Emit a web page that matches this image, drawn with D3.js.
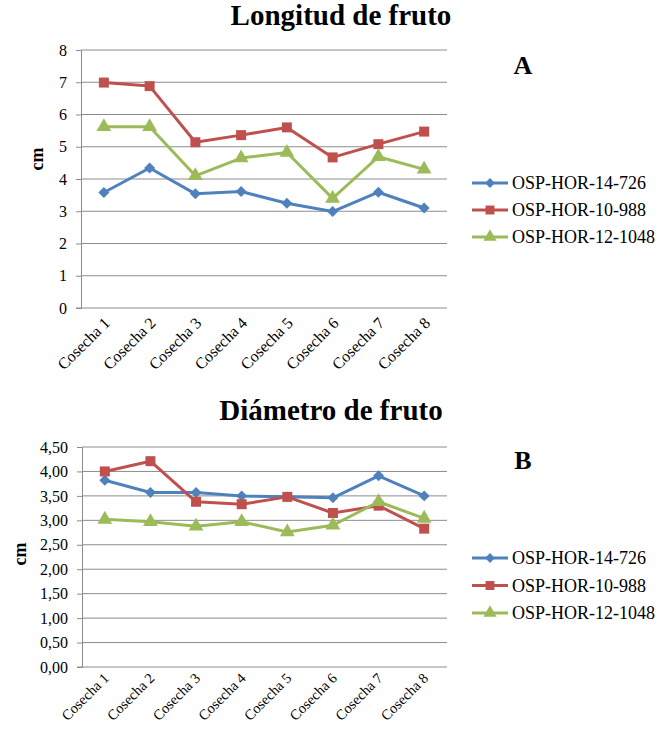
<!DOCTYPE html>
<html><head><meta charset="utf-8">
<script src="https://cdn.jsdelivr.net/npm/d3@7"></script>
<style>body{margin:0;background:#fff}svg{display:block}svg text{font-family:"Liberation Serif","Times New Roman","DejaVu Serif",serif !important}</style>
</head><body><svg id="c" width="662" height="730"></svg>
<script>
const categories = ["Cosecha 1","Cosecha 2","Cosecha 3","Cosecha 4","Cosecha 5","Cosecha 6","Cosecha 7","Cosecha 8"];
const seriesNames = ["OSP-HOR-14-726","OSP-HOR-10-988","OSP-HOR-12-1048"];
const seriesColors = ["#4F81BD","#C0504D","#9BBB59"];
const seriesMarkers = ["diamond","square","triangle"];
// Chart A: Longitud de fruto (cm)
const longA_14726 = [3.58,4.34,3.54,3.61,3.25,2.99,3.59,3.10];
const longA_10988 = [6.99,6.88,5.14,5.36,5.60,4.67,5.08,5.47];
const longA_121048 = [5.62,5.62,4.10,4.65,4.82,3.40,4.69,4.30];
const ticksA = [0,1,2,3,4,5,6,7,8];
// Chart B: Diámetro de fruto (cm)
const diamB_14726 = [3.82,3.57,3.57,3.50,3.48,3.46,3.91,3.50];
const diamB_10988 = [4.00,4.21,3.38,3.33,3.48,3.15,3.30,2.83];
const diamB_121048 = [3.02,2.97,2.88,2.97,2.76,2.90,3.38,3.04];
const ticksB = [0,0.5,1,1.5,2,2.5,3,3.5,4,4.5];

const SERIF = "'Liberation Serif','Times New Roman','DejaVu Serif',serif";
const svg = d3.select("#c");

function drawChart(cfg){
  const g = svg.append("g").style("font-family",SERIF);
  const x = d3.scaleBand().domain(categories).range([cfg.x0,cfg.x1]);
  const y = d3.scaleLinear().domain([cfg.ticks[0],cfg.ticks[cfg.ticks.length-1]]).range([cfg.y1,cfg.y0]);
  g.append("text").attr("x",cfg.titleX).attr("y",cfg.titleY).attr("text-anchor","middle")
    .attr("font-size",cfg.titleSize).attr("font-weight","bold").text(cfg.title);
  g.append("text").attr("x",cfg.letterX).attr("y",cfg.letterY).attr("text-anchor","middle")
    .attr("font-size",26).attr("font-weight","bold").text(cfg.letter);
  g.append("g").selectAll("line").data(cfg.ticks.slice(1)).join("line")
    .attr("x1",cfg.x0).attr("x2",cfg.x1).attr("y1",d=>y(d)).attr("y2",d=>y(d))
    .attr("stroke","#8c8c8c").attr("stroke-width",1);
  const ya = g.append("g").attr("transform",`translate(${cfg.x0},0)`)
    .call(d3.axisLeft(y).tickValues(cfg.ticks).tickSize(5).tickPadding(9).tickFormat(cfg.fmt));
  ya.attr("font-family",null);
  ya.select(".domain").attr("stroke","#8c8c8c");
  ya.selectAll(".tick line").attr("stroke","#8c8c8c");
  ya.selectAll("text").attr("font-size",cfg.tickSize).style("font-family",SERIF).attr("fill","#000");
  const xa = g.append("g").attr("transform",`translate(0,${cfg.y1})`)
    .call(d3.axisBottom(x).tickSize(0).tickPadding(0));
  xa.attr("font-family",null);
  xa.select(".domain").attr("stroke","#8c8c8c").attr("d",`M${cfg.x0-5},0H${cfg.x1}`);
  xa.selectAll("text").attr("font-size",cfg.catSize).style("font-family",SERIF).attr("fill","#000")
    .attr("text-anchor","end").attr("dy",null)
    .attr("transform",`translate(${cfg.catDx},${cfg.catDy}) rotate(-45)`);
  g.append("text").attr("transform",`translate(${cfg.ylabX},${cfg.ylabY}) rotate(-90)`)
    .attr("text-anchor","middle").attr("font-size",18).attr("font-weight","bold").text("cm");
  const sym = {diamond:d3.symbolSquare, square:d3.symbolSquare, triangle:d3.symbolTriangle};
  const rot = {diamond:45, square:0, triangle:0};
  const sizes = {diamond:60, square:100, triangle:95};
  cfg.data.forEach((vals,i)=>{
    const m = seriesMarkers[i];
    const line = d3.line().x((d,j)=>x(categories[j])+x.bandwidth()/2).y(d=>y(d));
    g.append("path").datum(vals).attr("d",line).attr("fill","none")
      .attr("stroke",seriesColors[i]).attr("stroke-width",3).attr("stroke-linejoin","round");
    g.append("g").selectAll("path").data(vals).join("path")
      .attr("transform",(d,j)=>`translate(${x(categories[j])+x.bandwidth()/2},${y(d)}) rotate(${rot[m]})`)
      .attr("d",d3.symbol().type(sym[m]).size(sizes[m]))
      .attr("fill",seriesColors[i]);
  });
  const lg = g.append("g");
  seriesNames.forEach((n,i)=>{
    const m = seriesMarkers[i];
    const yy = cfg.legY + i*cfg.legStep;
    lg.append("line").attr("x1",472).attr("x2",508).attr("y1",yy).attr("y2",yy)
      .attr("stroke",seriesColors[i]).attr("stroke-width",3);
    lg.append("path").attr("transform",`translate(490,${yy}) rotate(${rot[m]})`)
      .attr("d",d3.symbol().type(sym[m]).size(sizes[m]*0.8))
      .attr("fill",seriesColors[i]);
    lg.append("text").attr("x",512).attr("y",yy).attr("dy","0.35em").attr("font-size",18).text(n);
  });
}

drawChart({title:"Longitud de fruto", titleX:341, titleY:25, titleSize:29, letter:"A", letterX:523, letterY:74,
  x0:81, x1:447, y0:50, y1:308, ticks:ticksA, fmt:d3.format("d"), tickSize:16, catSize:16, catDx:7, catDy:16,
  ylabX:43, ylabY:159, data:[longA_14726,longA_10988,longA_121048], legY:183, legStep:27});
drawChart({title:"Diámetro de fruto", titleX:331, titleY:420, titleSize:29, letter:"B", letterX:523, letterY:469,
  x0:82, x1:447, y0:447, y1:667, ticks:ticksB, fmt:d=>d.toFixed(2).replace(".",","), tickSize:16, catSize:14.5, catDx:5, catDy:12,
  ylabX:26, ylabY:554, data:[diamB_14726,diamB_10988,diamB_121048], legY:558, legStep:27.5});
</script></body></html>
